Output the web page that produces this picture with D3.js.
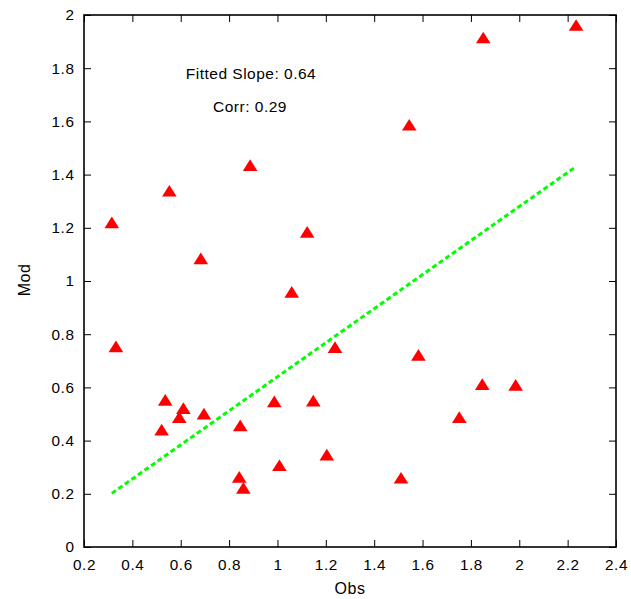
<!DOCTYPE html>
<html>
<head>
<meta charset="utf-8">
<script src="https://cdn.jsdelivr.net/npm/d3@7"></script>
<style>
  html, body { margin: 0; padding: 0; background: #fff; }
  svg { display: block; }
  text { font-family: "Liberation Sans", Arial, Helvetica, sans-serif; fill: #000; }
</style>
</head>
<body>
<svg id="chart" width="631" height="599"></svg>
<script>
// Data
const obs = [0.315, 0.553, 0.887, 0.683, 1.123, 1.059, 2.235, 1.851, 1.545,
             0.332, 0.536, 0.611, 0.594, 0.696, 0.521, 0.846, 0.842, 0.859,
             0.987, 1.008, 1.148, 1.204, 1.238, 1.583, 1.847, 1.985, 1.752, 1.511];
const mod = [1.213, 1.332, 1.428, 1.078, 1.177, 0.952, 1.955, 1.908, 1.580,
             0.747, 0.546, 0.515, 0.481, 0.494, 0.434, 0.450, 0.256, 0.215,
             0.540, 0.300, 0.543, 0.340, 0.744, 0.715, 0.605, 0.602, 0.481, 0.253];
const fitSlope = 0.64;
const fitIntercept = 0.0;
const corr = 0.29;
const xTicks = [0.2, 0.4, 0.6, 0.8, 1, 1.2, 1.4, 1.6, 1.8, 2, 2.2, 2.4];
const yTicks = [0, 0.2, 0.4, 0.6, 0.8, 1, 1.2, 1.4, 1.6, 1.8, 2];
const xDomain = [0.2, 2.4];
const yDomain = [0, 2];

const svg = d3.select("#chart");
const L = 84, R = 616, T = 15, B = 547;

const x = d3.scaleLinear().domain(xDomain).range([L, R]);
const y = d3.scaleLinear().domain(yDomain).range([B, T]);

const tickLen = 7;
const fmt = d => String(+d.toFixed(1));

// Bottom axis
const gB = svg.append("g").attr("transform", `translate(0,${B})`)
  .call(d3.axisBottom(x).tickValues(xTicks).tickFormat(fmt).tickSizeInner(-tickLen).tickSizeOuter(0).tickPadding(12));
// Top axis (ticks only)
const gT = svg.append("g").attr("transform", `translate(0,${T})`)
  .call(d3.axisTop(x).tickValues(xTicks).tickFormat("").tickSizeInner(-tickLen).tickSizeOuter(0));
// Left axis
const gL = svg.append("g").attr("transform", `translate(${L},0)`)
  .call(d3.axisLeft(y).tickValues(yTicks).tickFormat(fmt).tickSizeInner(-tickLen).tickSizeOuter(0).tickPadding(10));
// Right axis
const gR = svg.append("g").attr("transform", `translate(${R},0)`)
  .call(d3.axisRight(y).tickValues(yTicks).tickFormat("").tickSizeInner(-tickLen).tickSizeOuter(0));

[gB, gT, gL, gR].forEach(g => {
  g.select(".domain").remove();
  g.selectAll(".tick line").attr("stroke", "#000").attr("stroke-width", 1);
  g.selectAll(".tick text").attr("font-size", 15.3).attr("letter-spacing", "0.6px")
    .attr("font-family", "Liberation Sans, Arial, sans-serif").attr("fill", "#000");
});
gL.selectAll(".tick text").attr("dx", "0.5");

// Frame
svg.append("rect").attr("x", L).attr("y", T).attr("width", R - L).attr("height", B - T)
  .attr("fill", "none").attr("stroke", "#000").attr("stroke-width", 1.6);

// Fitted line
const xmin = d3.min(obs), xmax = d3.max(obs);
svg.append("line")
  .attr("x1", x(xmin)).attr("y1", y(fitIntercept + fitSlope * xmin))
  .attr("x2", x(xmax)).attr("y2", y(fitIntercept + fitSlope * xmax))
  .attr("stroke", "#00ff00").attr("stroke-width", 3).attr("stroke-dasharray", "5,3");

// Triangles (centroid at data point)
const hw = 7.3, vt = 5.85;
const tri = `M0,${-4 * vt / 3}L${-hw},${2 * vt / 3}L${hw},${2 * vt / 3}Z`;
svg.append("g").selectAll("path").data(obs.map((o, i) => [o, mod[i]])).join("path")
  .attr("d", tri)
  .attr("transform", d => `translate(${x(d[0])},${y(d[1])})`)
  .attr("fill", "#ff0000");

// Annotations
svg.append("text").attr("x", 251).attr("y", 79).attr("text-anchor", "middle")
  .attr("font-size", 15.5).attr("letter-spacing", "0.5px").text(`Fitted Slope: ${fitSlope.toFixed(2)}`);
svg.append("text").attr("x", 250).attr("y", 112).attr("text-anchor", "middle")
  .attr("font-size", 15.5).attr("letter-spacing", "0.5px").text(`Corr: ${corr.toFixed(2)}`);

// Axis titles
svg.append("text").attr("x", 350).attr("y", 594).attr("text-anchor", "middle")
  .attr("font-size", 16).attr("letter-spacing", "0.5px").text("Obs");
svg.append("text").attr("transform", "translate(30,280) rotate(-90)").attr("text-anchor", "middle")
  .attr("font-size", 16).attr("letter-spacing", "0.5px").text("Mod");
</script>
</body>
</html>
